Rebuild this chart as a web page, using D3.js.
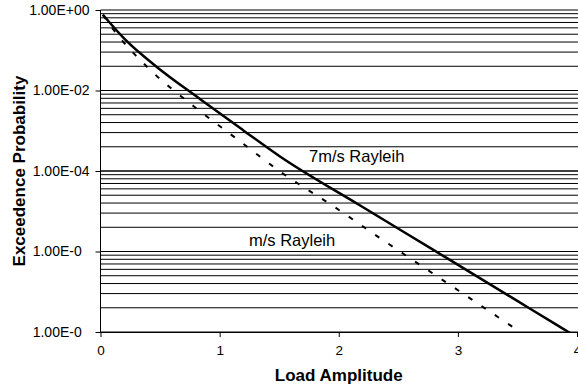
<!DOCTYPE html>
<html>
<head>
<meta charset="utf-8">
<script src="https://cdn.jsdelivr.net/npm/d3@7"></script>
<style>
  html, body { margin: 0; padding: 0; background: #fff; }
  svg { display: block; font-family: "Liberation Sans", Arial, sans-serif; }
</style>
</head>
<body>
<svg id="chart" width="578" height="388"></svg>
<script>
// Exceedance probability of load amplitude for two Rayleigh wind regimes
const solidAmp  = [0.02, 0.21, 0.47, 0.84, 1.20, 1.51, 2.18, 2.77, 3.16, 3.61, 4.00];
const solidProb = [0.76, 0.18, 0.039, 6.0e-3, 1.02e-3, 2.26e-4, 1.39e-5, 1.21e-6, 2.41e-7, 3.73e-8, 7.4e-9];

const dashAmp  = [0.02, 0.11, 0.39, 0.78, 1.15, 1.51, 1.96, 2.37, 2.81, 3.24, 3.56];
const dashProb = [0.76, 0.32, 0.039, 4.1e-3, 6.1e-4, 9.6e-5, 1.3e-5, 1.93e-6, 2.6e-7, 3.66e-8, 8.4e-9];

const xTicks = [0, 1, 2, 3, 4];
const xTickLabels = ["0", "1", "2", "3", "4"];
const yTicks = [1, 1e-2, 1e-4, 1e-6, 1e-8];
const yTickLabels = ["1.00E+00", "1.00E-02", "1.00E-04", "1.00E-0", "1.00E-0"];
const gridSteps = [1, 2, 3, 4, 5, 6, 7, 8, 9, 10];

const annotations = [
  { text: "7m/s Rayleih", amp: 1.75, prob: 1.65e-4, anchor: "start" },
  { text: "m/s Rayleih",  amp: 1.97, prob: 1.4e-6, anchor: "end" }
];

const svg = d3.select("#chart");
const plot = { left: 100.5, right: 577, top: 10, bottom: 332 };

const x = d3.scaleLinear().domain([0, 4]).range([plot.left, plot.right]);
const y = d3.scaleLog().domain([1e-8, 1]).range([plot.bottom, plot.top]);

// Horizontal gridlines: each two-decade band split at k^2 multiples of its floor
const gridValues = [];
for (let e = 0; e < 4; e++) {
  const base = Math.pow(10, -2 * (e + 1));
  gridSteps.forEach(k => gridValues.push(base * k * k));
}
svg.append("g")
  .selectAll("line")
  .data(gridValues)
  .join("line")
  .attr("x1", plot.left)
  .attr("x2", 578)
  .attr("y1", d => y(d))
  .attr("y2", d => y(d))
  .attr("stroke", "#000")
  .attr("stroke-width", 1);

// Clip the curves to the plotting area
svg.append("defs").append("clipPath").attr("id", "plotClip")
  .append("rect")
  .attr("x", plot.left).attr("y", plot.top - 2)
  .attr("width", 578 - plot.left).attr("height", plot.bottom - plot.top + 3);

const line = d3.line()
  .x(d => x(d[0]))
  .y(d => y(d[1]))
  .curve(d3.curveMonotoneX);

const curves = svg.append("g").attr("clip-path", "url(#plotClip)");
curves.append("path")
  .datum(dashAmp.map((a, i) => [a, dashProb[i]]))
  .attr("d", line)
  .attr("fill", "none")
  .attr("stroke", "#000")
  .attr("stroke-width", 2)
  .attr("stroke-dasharray", "5,11");
curves.append("path")
  .datum(solidAmp.map((a, i) => [a, solidProb[i]]))
  .attr("d", line)
  .attr("fill", "none")
  .attr("stroke", "#000")
  .attr("stroke-width", 2.5);

// Axes
const xAxis = d3.axisBottom(x)
  .tickValues(xTicks)
  .tickFormat((d, i) => xTickLabels[i])
  .tickSize(5)
  .tickPadding(8);
const gx = svg.append("g")
  .attr("transform", `translate(0,${plot.bottom})`)
  .call(xAxis);
gx.select(".domain").attr("d", `M${plot.left},0.5H578`).attr("stroke", "#000");
gx.selectAll(".tick line").attr("stroke", "#000");
gx.selectAll(".tick text")
  .attr("font-size", 13.5)
  .attr("fill", "#000")
  .attr("font-family", "Liberation Sans, Arial, sans-serif");

const yAxis = d3.axisLeft(y)
  .tickValues(yTicks)
  .tickFormat((d, i) => yTickLabels[i])
  .tickSize(5)
  .tickPadding(6);
const gy = svg.append("g")
  .attr("transform", `translate(${plot.left},0)`)
  .call(yAxis);
gy.select(".domain").attr("d", `M0,${plot.top}V${plot.bottom + 0.5}`).attr("stroke", "#000");
gy.selectAll(".tick line").attr("stroke", "#000");
gy.selectAll(".tick text")
  .attr("font-size", 14)
  .attr("fill", "#000")
  .attr("font-family", "Liberation Sans, Arial, sans-serif")
  .attr("dx", (d, i) => `${-(8 - yTickLabels[i].length) * 0.556}em`);

// Axis titles
svg.append("text")
  .attr("x", (plot.left + plot.right) / 2)
  .attr("y", 381)
  .attr("text-anchor", "middle")
  .attr("font-size", 17)
  .attr("font-weight", "bold")
  .text("Load Amplitude");

svg.append("text")
  .attr("transform", `translate(24.5,${(plot.top + plot.bottom) / 2}) rotate(-90)`)
  .attr("text-anchor", "middle")
  .attr("font-size", 17)
  .attr("font-weight", "bold")
  .text("Exceedence Probability");

// Curve labels
svg.append("g")
  .selectAll("text")
  .data(annotations)
  .join("text")
  .attr("x", d => x(d.amp))
  .attr("y", d => y(d.prob))
  .attr("text-anchor", d => d.anchor)
  .attr("font-size", 16.5)
  .text(d => d.text);
</script>
</body>
</html>
